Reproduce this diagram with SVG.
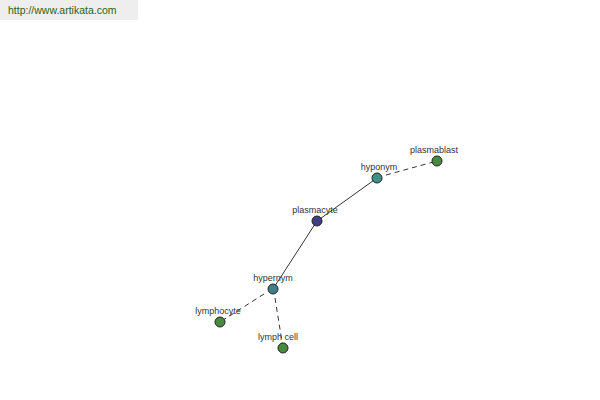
<svg xmlns="http://www.w3.org/2000/svg" width="600" height="400" viewBox="0 0 600 400">
<style>
.lbl{font-family:"Liberation Sans",Arial,sans-serif;font-size:9px;fill:#333;text-anchor:middle}
.node{stroke:#222;stroke-width:1}
.solid{stroke:#000;stroke-width:0.8;fill:none}
.dash{stroke:#000;stroke-width:0.8;fill:none;stroke-dasharray:5,4}
</style>
<rect width="600" height="400" fill="#fff"/>
<rect x="0" y="0" width="138" height="20" fill="#eeeeee"/>
<text x="8" y="14" font-family="'Liberation Sans',Arial,sans-serif" font-size="10.5" fill="#2f5f10">http://www.artikata.com</text>
<g id="connectors">
<line class="solid" x1="317" y1="221" x2="377" y2="178"/>
<line class="solid" x1="317" y1="221" x2="273" y2="289"/>
<line class="dash" x1="386" y1="175" x2="437" y2="161"/>
<line class="dash" x1="264" y1="294" x2="220" y2="322"/>
<line class="dash" x1="275" y1="298" x2="283" y2="348"/>
</g>
<g id="plasmacyte"><circle class="node" cx="317" cy="221" r="5" fill="#3f3f80"/><text class="lbl" x="315" y="213">plasmacyte</text></g>
<g id="hyponym"><circle class="node" cx="377" cy="178" r="5" fill="#3f8f8a"/><text class="lbl" x="379" y="170">hyponym</text></g>
<g id="plasmablast"><circle class="node" cx="437" cy="161" r="5" fill="#4a8a3f"/><text class="lbl" x="434" y="153">plasmablast</text></g>
<g id="hypernym"><circle class="node" cx="273" cy="289" r="5" fill="#3f8088"/><text class="lbl" x="273" y="281">hypernym</text></g>
<g id="lymphocyte"><circle class="node" cx="220" cy="322" r="5" fill="#4a8a3f"/><text class="lbl" x="218" y="314">lymphocyte</text></g>
<g id="lymph_cell"><circle class="node" cx="283" cy="348" r="5" fill="#4a8a3f"/><text class="lbl" x="278" y="340">lymph cell</text></g>
</svg>
